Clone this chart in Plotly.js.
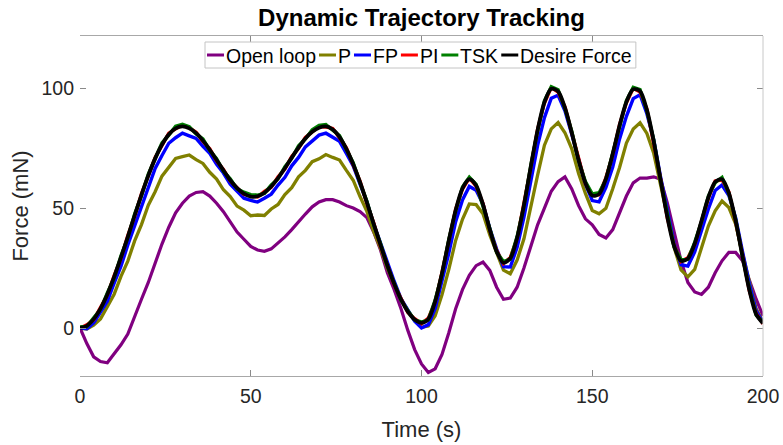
<!DOCTYPE html>
<html>
<head>
<meta charset="utf-8">
<script src="https://cdn.plot.ly/plotly-3.0.1.min.js"></script>
<style>
  html, body { margin: 0; padding: 0; background: #ffffff; }
  #chart { width: 783px; height: 445px; }
</style>
</head>
<body>
<div id="chart"></div>
<script>
// Sample times (s)
const time = [
  0, 2, 4, 6, 8, 10, 12, 14, 16, 18,
  20, 22, 24, 26, 28, 30, 32, 34, 36, 38,
  40, 42, 44, 46, 48, 50, 52, 54, 56, 58,
  60, 62, 64, 66, 68, 70, 72, 74, 76, 78,
  80, 82, 84, 86, 88, 90, 92, 94, 96, 98,
  100, 102, 104, 106, 108, 110, 112, 114, 116, 118,
  120, 122, 124, 126, 128, 130, 132, 134, 136, 138,
  140, 142, 144, 146, 148, 150, 152, 154, 156, 158,
  160, 162, 164, 166, 168, 170, 172, 174, 176, 178,
  180, 182, 184, 186, 188, 190, 192, 194, 196, 198,
  200
];

// Measured force (mN) for each controller
const openLoop = [
  0, -6.5, -12, -14, -14.5, -10.8, -7, -2.5, 5, 12,
  19, 27, 35, 42, 48, 52, 55, 56.5, 56.8, 55,
  52, 48.5, 44, 40, 37, 34, 32.5, 32, 33, 35.5,
  38, 41, 44.5, 47.5, 50.5, 52.5, 53.5, 53.5, 52.5, 51,
  50, 48.5, 46, 40, 32.5, 23, 16, 8, -1, -9,
  -15, -18.5, -17, -11, -2, 8, 16, 22, 26, 27.5,
  24, 17, 12, 12.5, 17, 25, 34, 43, 50, 57,
  61, 63, 58, 51, 45.5, 43, 39, 37.5, 41, 48,
  55, 60.5, 62.5, 62.5, 63, 62, 52, 40, 28, 19,
  15, 14, 17, 23, 28, 31.5, 31.5, 28, 20, 12, 5,
  1
];

const pCtrl = [
  0, -0.4, 1.2, 3.8, 8.9, 14.1, 21.5, 27.9, 36.3, 43.1,
  51.2, 56.8, 63.3, 66.9, 70.7, 71.4, 72.1, 70.2, 68.6, 64.9,
  62.1, 57.6, 54.8, 50.8, 49.1, 46.8, 47.1, 46.9, 49.6, 51.5,
  55.6, 58.5, 63, 65.7, 69.3, 70.5, 72.3, 71.1, 70, 65.7,
  61.6, 54.8, 48.6, 40.2, 33.3, 25, 18.8, 11.8, 7.4, 3.1,
  0.3, 0.8, 5.1, 13.9, 24.4, 36.5, 45.3, 51.7, 51.4, 47.6,
  38.8, 31.1, 24.1, 22.6, 28.3, 37.2, 50.9, 63.7, 76.2, 83,
  85.6, 81.4, 74.7, 64.4, 56.1, 49, 47.6, 49.9, 58, 66.9,
  77.1, 82.9, 85.5, 81.1, 72.8, 59.3, 46.3, 33.5, 24.2, 21.3,
  24.4, 33.2, 42.5, 48.8, 52.9, 50.2, 43.3, 31, 19.3, 8,
  2.5
];

const fpCtrl = [
  0, -0.3, 2.1, 6.6, 11.2, 18.7, 25.8, 34.6, 42.6, 51.5,
  58.9, 66.5, 71.9, 77, 79.3, 81.2, 80.1, 79, 75.7, 72.8,
  68.2, 64.6, 59.9, 57.1, 54.1, 53.2, 52.5, 54.1, 55.8, 59.6,
  62.8, 67.6, 71.1, 75.5, 77.9, 80.4, 81.2, 79.7, 77.8, 72.8,
  67.6, 60, 52.6, 43.4, 35.5, 26.6, 19.5, 12.3, 7.7, 2.8,
  0, 1.4, 8.2, 19.1, 31.2, 44.3, 53.4, 59, 57.4, 51.7,
  41.5, 32.9, 25.6, 25.4, 33.6, 46.2, 60.5, 76.1, 87.7, 95.8,
  97, 90.5, 80.7, 70.4, 60.1, 53.1, 52.6, 58.6, 67.1, 78.8,
  88.2, 95.6, 97.2, 89.3, 78.5, 63, 48.3, 35.1, 26.4, 25.8,
  31.7, 40.8, 49.6, 57.3, 59.6, 55.2, 45.9, 31.8, 18.5, 7.2,
  2.4
];

const piCtrl = [
  0, 1.3, 3.4, 8.6, 13.7, 21.8, 29.1, 38.5, 46.6, 55.9,
  63.2, 71.1, 76.1, 81.2, 83, 84.6, 83.5, 81.6, 77.8, 74.7,
  69.7, 66.1, 61.3, 58.7, 55.7, 55.3, 54.6, 56.9, 58.7, 63,
  66.3, 71.5, 74.9, 79.4, 81.5, 84, 83.8, 83.1, 79.3, 75.1,
  68, 61.2, 52, 43.9, 34.3, 26.5, 18.1, 12.3, 6.5, 3.9,
  1.8, 4.1, 10.8, 23.2, 36.1, 49.5, 57.9, 62.5, 59.1, 51.9,
  40.7, 32.3, 26.9, 29.4, 37.3, 51.6, 66.9, 82.9, 93.8, 100.2,
  98.3, 92.2, 81.1, 70.3, 60.1, 55.6, 55.5, 62.6, 72.3, 84.8,
  93.9, 99.9, 98.4, 91.3, 77.5, 62.2, 45.8, 34.4, 27.7, 29.3,
  34.8, 45.1, 54.1, 61.3, 61.7, 56.7, 44.3, 30.3, 15.5, 6.1,
  1.8
];

const tskCtrl = [
  0.4, 0.6, 4.3, 7.7, 14.6, 20.9, 30.1, 37.6, 47.5, 55.1,
  64.1, 70.2, 77.1, 80.4, 84.1, 84.9, 83.9, 80.9, 78.8, 74,
  70.6, 65.3, 62.2, 58, 56.6, 55.6, 55.4, 56.1, 59.6, 62.2,
  67.2, 70.7, 75.9, 78.8, 82.6, 84.4, 84.8, 82.4, 80.2, 74.4,
  68.9, 60.5, 52.9, 43.1, 35.2, 25.8, 18.9, 11.6, 7.2, 3.3,
  2.5, 3.4, 11.6, 22.5, 36.9, 48.8, 58.8, 62.9, 59.9, 51.2,
  41.5, 31.6, 27.7, 28.7, 38.1, 50.9, 67.7, 82.2, 94.7, 100.6,
  99.3, 91.5, 82, 69.6, 61, 55.9, 56.4, 61.9, 73.2, 84.1,
  94.8, 100.3, 99.4, 90.6, 78.4, 61.5, 46.7, 33.7, 28.5, 28.6,
  35.7, 44.4, 55, 60.6, 62.8, 56, 45.2, 29.6, 16.3, 5.4,
  2.4
];

// Reference (desired) force profile
const desired = [
  0, 0.9, 3.7, 8.1, 14, 21.3, 29.4, 38, 46.9, 55.5,
  63.5, 70.6, 76.4, 80.7, 83.2, 84, 83.2, 81.2, 78.1, 74.3,
  70, 65.7, 61.6, 58.3, 56, 54.8, 54.9, 56.4, 59, 62.5,
  66.6, 71, 75.2, 79, 81.8, 83.5, 84, 82.7, 79.6, 74.7,
  68.3, 60.8, 52.3, 43.4, 34.6, 26.1, 18.4, 11.9, 6.8, 3.5,
  2.1, 3.7, 11.1, 22.8, 36.4, 49.1, 58.2, 62, 59.4, 51.5,
  41, 31.9, 27.2, 29, 37.6, 51.2, 67.2, 82.5, 94.1, 99.7,
  98.6, 91.8, 81.4, 69.9, 60.4, 55.2, 55.8, 62.2, 72.6, 84.4,
  94.2, 99.5, 98.7, 90.9, 77.8, 61.8, 46.1, 34, 28, 28.9,
  35.1, 44.7, 54.4, 60.9, 62, 56.3, 44.6, 29.9, 15.8, 5.7,
  2
];

const seriesNames = ['Open loop', 'P', 'FP', 'PI', 'TSK', 'Desire Force'];
const xTicks = [0, 50, 100, 150, 200];
const yTicks = [0, 50, 100];

const seriesData = [openLoop, pCtrl, fpCtrl, piCtrl, tskCtrl, desired];
const seriesColors = ['#800080', '#808000', '#0000ff', '#ff0000', '#008000', '#000000'];
const seriesWidths = [3.2, 3.3, 3.4, 3.4, 3.4, 3.8];

const FONT = '"Liberation Sans", Arial, Helvetica, sans-serif';
const INK = '#262626';

const traces = seriesData.map((ys, i) => ({
  type: 'scatter',
  mode: 'lines',
  x: time,
  y: ys,
  name: seriesNames[i],
  showlegend: false,
  line: {
    color: seriesColors[i],
    width: seriesWidths[i],
    shape: i === seriesData.length - 1 ? 'spline' : 'linear',
    smoothing: 0.8
  },
  hoverinfo: 'skip'
}));

// Plot area geometry (px)
const W = 783, H = 445;
const M = { l: 80, r: 20, t: 36, b: 69 };
const plotW = W - M.l - M.r;
const plotH = H - M.t - M.b;
const px2x = px => (px - M.l) / plotW;
const py2y = py => (H - M.b - py) / plotH;

// Compact in-axes legend: short line swatch followed by its label
const legendFontSize = 19.5;
const ctx = document.createElement('canvas').getContext('2d');
ctx.font = legendFontSize + 'px "Liberation Sans"';

const shapes = [];
const annotations = [];
const swatchLen = 17, gapBefore = 2, gapAfter = 3;
const legTop = 42, legBottom = 68, legMid = 55, legLeft = 205;
let cursor = 207;
const legendItems = [];
seriesNames.forEach((name, i) => {
  const w = ctx.measureText(name).width;
  legendItems.push({ name, color: seriesColors[i], x0: cursor, tx: cursor + swatchLen + gapBefore });
  cursor += swatchLen + gapBefore + w + gapAfter;
});
const legRight = cursor + 1;

shapes.push({
  type: 'rect', xref: 'paper', yref: 'paper', layer: 'above',
  x0: px2x(legLeft), x1: px2x(legRight), y0: py2y(legBottom), y1: py2y(legTop),
  fillcolor: '#ffffff', line: { color: '#c4c4c4', width: 1 }
});
legendItems.forEach(it => {
  shapes.push({
    type: 'line', xref: 'paper', yref: 'paper', layer: 'above',
    x0: px2x(it.x0), x1: px2x(it.x0 + swatchLen), y0: py2y(legMid), y1: py2y(legMid),
    line: { color: it.color, width: 3 }
  });
  annotations.push({
    xref: 'paper', yref: 'paper', showarrow: false,
    x: px2x(it.tx - 2), y: py2y(legMid + 0.5), xanchor: 'left', yanchor: 'middle',
    text: it.name, font: { family: FONT, size: legendFontSize, color: '#000000' }
  });
});

// Right-hand frame edge
shapes.push({
  type: 'line', xref: 'paper', yref: 'paper', layer: 'above',
  x0: 1, x1: 1, y0: 0, y1: 1, line: { color: '#c8c8c8', width: 1 }
});

const layout = {
  width: W, height: H,
  margin: M,
  paper_bgcolor: '#ffffff',
  plot_bgcolor: '#ffffff',
  showlegend: false,
  title: {
    text: 'Dynamic Trajectory Tracking',
    font: { family: FONT, size: 24, color: '#000000', weight: 'bold' },
    x: 0.5, xref: 'paper', xanchor: 'center',
    y: 1 - 18 / H, yref: 'container', yanchor: 'middle'
  },
  xaxis: {
    range: [0, 200],
    tickvals: xTicks,
    ticktext: xTicks.map(String),
    ticks: 'inside', ticklen: 6, tickwidth: 1, tickcolor: '#8a8a8a',
    showline: true, linecolor: '#a8a8a8', linewidth: 1, mirror: 'ticks',
    showgrid: false, zeroline: false,
    ticklabelstandoff: 3,
    tickfont: { family: FONT, size: 19.5, color: INK },
    title: { text: 'Time (s)', font: { family: FONT, size: 22, color: INK }, standoff: 15 },
    automargin: false
  },
  yaxis: {
    range: [-20, 121.7],
    tickvals: yTicks,
    ticktext: yTicks.map(String),
    ticks: 'inside', ticklen: 6, tickwidth: 1, tickcolor: '#8a8a8a',
    showline: false, mirror: 'ticks',
    showgrid: false, zeroline: false,
    ticklabelstandoff: 5,
    tickfont: { family: FONT, size: 19.5, color: INK },
    title: { text: 'Force (mN)', font: { family: FONT, size: 22, color: INK }, standoff: 6 },
    automargin: false
  },
  shapes: shapes,
  annotations: annotations
};

Plotly.newPlot('chart', traces, layout, { displayModeBar: false, staticPlot: true });
</script>
</body>
</html>
